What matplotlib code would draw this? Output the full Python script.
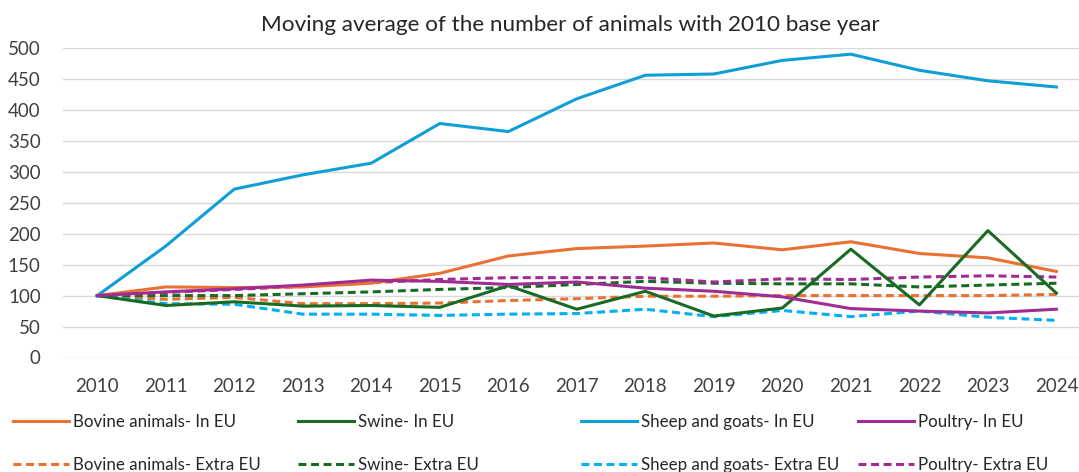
import matplotlib.pyplot as plt
from matplotlib.lines import Line2D

# =========================
# Data (index, 2010 = 100)
# =========================

years = ["2010", "2011", "2012", "2013", "2014", "2015", "2016", "2017",
         "2018", "2019", "2020", "2021", "2022", "2023", "2024"]

bovine_in = [100, 114, 113, 114, 120, 136, 164, 176, 180, 185, 174, 187, 168, 161, 139]
swine_in = [100, 84, 90, 83, 84, 81, 116, 78, 107, 67, 80, 175, 85, 205, 104]
sheep_in = [100, 180, 272, 295, 314, 378, 365, 418, 456, 458, 480, 490, 464, 447, 437]
poultry_in = [100, 106, 111, 117, 125, 123, 118, 122, 112, 107, 98, 79, 75, 72, 78]

bovine_extra = [100, 94, 97, 87, 87, 88, 92, 95, 99, 99, 100, 100, 100, 100, 102]
swine_extra = [100, 100, 100, 103, 106, 110, 113, 118, 123, 120, 119, 119, 114, 117, 120]
sheep_extra = [100, 87, 86, 70, 70, 68, 70, 71, 78, 66, 76, 66, 75, 65, 60]
poultry_extra = [100, 105, 110, 115, 121, 126, 129, 129, 129, 122, 127, 126, 130, 132, 130]

labels_in = ["Bovine animals- In EU", "Swine- In EU",
             "Sheep and goats- In EU", "Poultry- In EU"]
labels_extra = ["Bovine animals- Extra EU", "Swine- Extra EU",
                "Sheep and goats- Extra EU", "Poultry- Extra EU"]

colors_in = ["#E97132", "#196B24", "#0F9ED5", "#A02B93"]
colors_extra = ["#E97132", "#196B24", "#00B0F0", "#A02B93"]

# =========================
# Plot
# =========================

plt.rcParams["font.family"] = ["Lato", "DejaVu Sans"]

fig = plt.figure(figsize=(10.79, 4.72), dpi=100)
ax = fig.add_axes([63 / 1079, 1 - 357.5 / 472, 1016 / 1079, 309.5 / 472])

x = list(range(len(years)))
dash = (0, (2.6, 1.5))
lw = 2.2

series_in = [bovine_in, swine_in, sheep_in, poultry_in]
series_extra = [bovine_extra, swine_extra, sheep_extra, poultry_extra]

for vals, col in zip(series_extra, colors_extra):
    ax.plot(x, vals, color=col, linewidth=lw, linestyle=dash)
for vals, col in zip(series_in, colors_in):
    ax.plot(x, vals, color=col, linewidth=lw)

ax.set_xlim(-0.5, 14.33)
ax.set_ylim(0, 500)
ax.set_yticks(range(0, 501, 50))
ax.set_xticks(x)
ax.set_xticklabels(years)
ax.tick_params(axis="both", length=0, labelsize=13.5, colors="#404040")
ax.tick_params(axis="x", pad=15)
ax.tick_params(axis="y", pad=16)
ax.grid(axis="y", color="#D9D9D9", linewidth=1.0)
ax.set_axisbelow(True)
for side in ["top", "right", "left", "bottom"]:
    ax.spines[side].set_visible(False)

fig.text(570 / 1079, 1 - 25 / 472, "Moving average of the number of animals with 2010 base year",
         ha="center", va="center", fontsize=16.2, color="#262626")

# Legend: four columns, In EU on top row, Extra EU on bottom row
col_x = [13, 298, 581, 858]
for i in range(4):
    handles = [
        Line2D([], [], color=colors_in[i], linewidth=lw),
        Line2D([], [], color=colors_extra[i], linewidth=lw, linestyle=dash),
    ]
    fig.legend(handles, [labels_in[i], labels_extra[i]],
               loc="upper left", bbox_to_anchor=(col_x[i] / 1079, 1 - 414 / 472),
               frameon=False, handlelength=3.3, handletextpad=0.25,
               labelspacing=1.6, borderpad=0, borderaxespad=0,
               prop={"size": 12.2}, labelcolor="#262626")

fig.savefig("out.png", dpi=100)
